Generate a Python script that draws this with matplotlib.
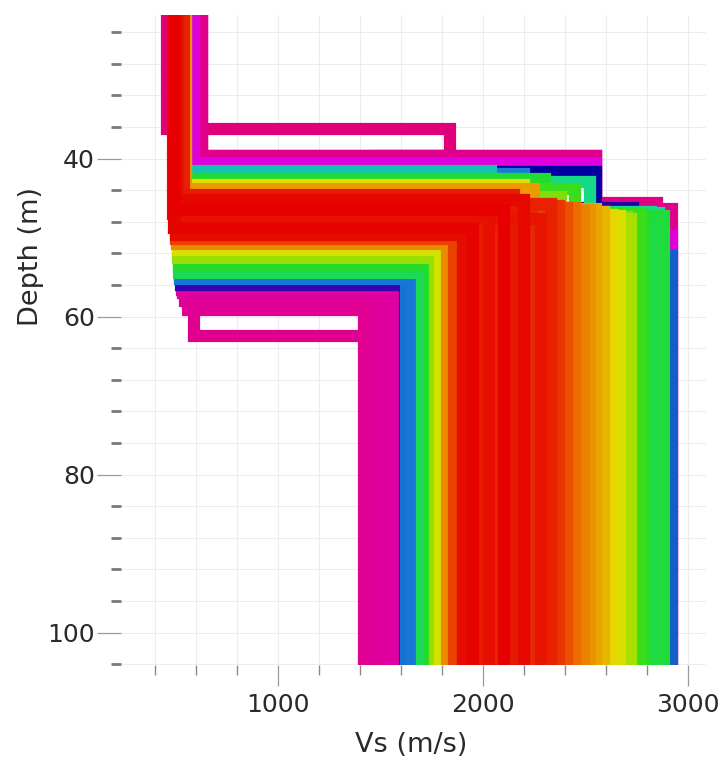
import numpy as np
import matplotlib.pyplot as plt
from matplotlib.colors import LinearSegmentedColormap
from matplotlib.ticker import MultipleLocator

# Профили Vs: скорости слоёв (м/с) и глубины границ (м)
vs_layers = [
    # розовые (худшие)
    [458, 1840, 1480], [628, 2550], [628, 2550, 2850], [628, 2550, 2920],
    [590, 1440], [560, 1420], [545, 1465], [535, 1505], [532, 1545], [530, 1580],
    # пурпурные
    [588, 2550], [570, 2920],
    # тёмно-синие
    [540, 2550], [545, 2730], [528, 1620],
    # голубые
    [540, 2200], [524, 1625], [520, 2920], [522, 1655],
    # бирюзовые
    [540, 2040], [535, 2860], [530, 2520, 2820],
    # зелёные
    [530, 2300, 2790], [535, 2880], [515, 1740], [518, 1700], [532, 2760], [534, 2830],
    [535, 2450, 2770],
    # жёлто-зелёные
    [512, 1765], [550, 2720], [540, 2380, 2700],
    # жёлтые
    [540, 2200], [545, 2630], [548, 2670], [510, 1790],
    # оранжевые
    [550, 2250], [540, 2550], [535, 2490], [505, 1825], [530, 2450], [538, 2590], [536, 2520],
    # красно-оранжевые
    [525, 2370], [500, 1860], [528, 2410],
    # красные (лучшие)
    [495, 2100], [492, 1950], [498, 2200], [502, 1900], [488, 2030], [505, 2280],
    [510, 2150], [500, 1990], [540, 2330], [535, 2070], [520, 2240], [515, 2120],
]
interfaces = [
    [36.3, 39.6], [39.6], [39.6, 45.6], [39.6, 46.4],
    [62.5], [59.2], [58.0], [57.0], [56.6], [56.3],
    [40.6], [49.8],
    [41.7], [46.2], [56.0],
    [41.9], [54.8], [52.3], [55.2],
    [41.5], [46.9], [43.0, 46.8],
    [42.6, 47.1], [47.3], [53.6], [54.5], [47.0], [47.2],
    [43.9, 47.2],
    [52.6], [47.6], [44.8, 47.4],
    [43.3], [47.1], [47.3], [51.6],
    [43.85], [46.4], [46.6], [50.8], [46.3], [46.8], [46.5],
    [46.0], [50.2], [46.3],
    [46.5], [48.8], [45.2], [49.6], [47.0], [47.6],
    [44.6], [48.2], [45.8], [44.9], [46.2], [49.2],
]
# Невязка профиля (0 - лучший)
misfit = [
    1.00, 0.99, 0.985, 0.98,
    0.975, 0.97, 0.965, 0.96, 0.955, 0.95,
    0.88, 0.89,
    0.80, 0.81, 0.82,
    0.72, 0.73, 0.74, 0.725,
    0.66, 0.64, 0.62,
    0.55, 0.56, 0.55, 0.58, 0.53, 0.57,
    0.52,
    0.45, 0.44, 0.47,
    0.35, 0.33, 0.36, 0.37,
    0.26, 0.27, 0.23, 0.24, 0.20, 0.29, 0.25,
    0.12, 0.14, 0.16,
    0.00, 0.01, 0.02, 0.03, 0.04, 0.05,
    0.06, 0.07, 0.08, 0.09, 0.095, 0.085,
]

cmap = LinearSegmentedColormap.from_list('misfit', [
    (0.00, '#e60000'), (0.10, '#e82a00'), (0.22, '#ec7a00'),
    (0.34, '#e6e000'), (0.44, '#a6e000'), (0.54, '#22dc22'),
    (0.64, '#12d8a0'), (0.72, '#1a80d8'), (0.80, '#0000a0'),
    (0.88, '#e000e0'), (1.00, '#e0007a')])


def step_profile(vs, h, top=0.0, bottom=120.0):
    d = [top] + list(h) + [bottom]
    x, y = [], []
    for i, v in enumerate(vs):
        x += [v, v]
        y += [d[i], d[i + 1]]
    return x, y


fig = plt.figure(figsize=(7.26, 7.73), dpi=100)
ax = fig.add_axes([0.1667, 0.1397, 0.806, 0.841])

# Сначала худшие профили, лучшие сверху
order = np.argsort(misfit, kind='stable')[::-1]
for k, i in enumerate(order):
    x, y = step_profile(vs_layers[i], interfaces[i])
    ax.plot(x, y, color=cmap(misfit[i]), lw=8.8, solid_joinstyle='miter',
            solid_capstyle='butt', zorder=2 + k * 0.01)

ax.set_xlim(234, 3088)
ax.set_ylim(104.1, 21.8)

ax.xaxis.set_major_locator(MultipleLocator(1000))
ax.xaxis.set_minor_locator(MultipleLocator(200))
ax.yaxis.set_major_locator(MultipleLocator(20))
ax.yaxis.set_minor_locator(MultipleLocator(4))
ax.grid(which='both', color='#ededed', lw=0.8)
ax.set_axisbelow(True)
for s in ax.spines.values():
    s.set_visible(False)

ax.tick_params(axis='both', which='major', labelsize=18, labelcolor='#2a2a2a',
               color='#9a9a9a', width=0.9)
ax.tick_params(axis='y', which='major', length=17, pad=2)
ax.tick_params(axis='x', which='major', length=15, pad=5)
ax.tick_params(axis='y', which='minor', length=7.5, width=2, color='#7a7a7a')
ax.tick_params(axis='x', which='minor', length=7, width=1, color='#8a8a8a')

ax.set_xlabel('Vs (m/s)', fontsize=19.5, color='#2a2a2a')
ax.set_ylabel('Depth (m)', fontsize=19.5, color='#2a2a2a')
ax.xaxis.set_label_coords(0.496, -0.103)
ax.yaxis.set_label_coords(-0.131, 0.628)

fig.savefig('out.png', dpi=100)
